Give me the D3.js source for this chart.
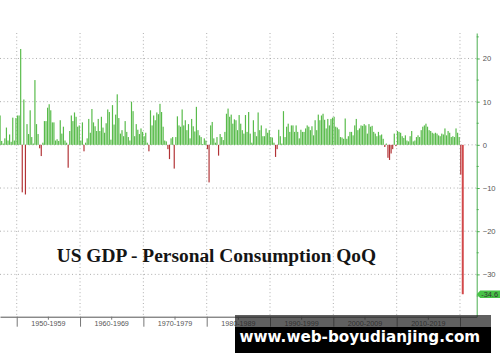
<!DOCTYPE html>
<html>
<head>
<meta charset="utf-8">
<script src="https://cdn.jsdelivr.net/npm/d3@7"></script>
<style>
  body { margin: 0; background: #fff; }
</style>
</head>
<body>
<svg width="500" height="362"></svg>
<script>
// US real personal consumption, QoQ annualized %, 1947 Q2 .. 2020 Q2
const firstQuarter = 1947.25;
const consumption = [
  6.8, 0.9, 0.3,            // 1947 Q2-Q4
  1.5, 4.0, 1.0, 2.4,       // 1948
  0.7, 6.3, 1.0, 6.2,       // 1949
  6.8, 6.8, 22.2, -11.0,    // 1950
  10.5, -11.5, 4.8, 2.5,    // 1951
  8.0, 1.8, 0.3, 15.0,      // 1952
  4.8, 2.5, -0.8, -2.6,     // 1953
  0.5, 5.5, 5.5, 8.6,       // 1954
  9.4, 8.0, 5.2, 5.2,       // 1955
  1.0, 1.3, 0.9, 5.7,       // 1956
  2.6, 4.2, 1.0, 0.5,       // 1957
  -5.3, 3.2, 6.8, 5.5,      // 1958
  7.5, 6.5, 4.2, 4.5,       // 1959
  1.0, 5.2, -1.5, 0.5,      // 1960
  1.5, 6.0, 2.8, 8.3,       // 1961
  5.2, 4.3, 3.2, 6.0,       // 1962
  3.2, 6.5, 4.0, 2.8,       // 1963
  5.0, 8.2, 7.6, 1.2,       // 1964
  9.2, 4.7, 7.0, 11.7,      // 1965
  6.2, 2.6, 3.4, 2.0,       // 1966
  5.5, 3.0, 1.8, 1.0,       // 1967
  10.0, 7.8, 2.0, 4.8,      // 1968
  3.5, 2.5, 3.8, 3.0,       // 1969
  2.0, 2.8, 0.5, -1.5,      // 1970
  8.0, 4.5, 6.8, 5.7,       // 1971
  7.5, 7.1, 9.5, 7.6,       // 1972
  4.2, 1.0, 0.8, -1.0,      // 1973
  -3.3, 1.5, 1.8, -5.5,     // 1974
  1.8, 6.6, 4.5, 4.2,       // 1975
  8.2, 4.5, 5.7, 3.4,       // 1976
  4.8, 1.5, 6.0, 4.3,       // 1977
  3.1, 8.8, 3.4, 2.2,       // 1978
  1.8, 0.2, 1.5, 1.0,       // 1979
  -1.0, -8.7, 4.5, 5.3,     // 1980
  1.5, 0.5, 1.8, -2.5,      // 1981
  2.5, 1.8, 1.1, 3.0,       // 1982
  7.2, 8.4, 6.5, 7.0,       // 1983
  4.9, 5.9, 5.7, 3.4,       // 1984
  6.9, 4.9, 3.4, 2.6,       // 1985
  6.9, 3.0, 7.6, 2.6,       // 1986
  0.5, 5.7, 3.0, 2.0,       // 1987
  7.5, 3.4, 4.5, 2.0,       // 1988
  2.0, 3.8, 2.8, 3.4,       // 1989
  1.8, 1.7, 0.5, -2.8,      // 1990
  -1.0, 3.5, 2.0, 0.3,      // 1991
  7.8, 1.8, 4.2, 4.9,       // 1992
  3.0, 4.5, 4.5, 3.0,       // 1993
  4.5, 3.0, 1.5, 3.5,       // 1994
  3.0, 3.0, 3.8, 4.5,       // 1995
  4.2, 3.4, 4.3, 2.2,       // 1996
  5.7, 3.4, 7.0, 5.7,       // 1997
  6.8, 7.2, 5.8, 3.8,       // 1998
  6.0, 4.5, 6.0, 6.3,       // 1999
  6.5, 4.2, 4.0, 3.6,       // 2000
  1.8, 1.7, 1.4, 6.1,       // 2001
  1.4, 2.0, 3.0, 3.0,       // 2002
  2.2, 4.5, 6.0, 3.4,       // 2003
  3.8, 4.5, 4.4, 4.8,       // 2004
  4.5, 2.6, 4.8, 4.2,       // 2005
  4.4, 3.0, 2.6, 2.0,       // 2006
  3.0, 2.2, 2.4, 1.4,       // 2007
  -0.5, 0.3, -3.0, -3.5,    // 2008
  -2.0, -1.0, 2.6, -0.3,    // 2009
  3.2, 3.0, 2.8, 2.0,       // 2010
  1.6, 2.2, 1.0, 0.8,       // 2011
  2.0, 3.2, 0.8, 1.0,       // 2012
  1.8, 2.2, 1.8, 3.4,       // 2013
  4.2, 4.5, 4.9, 4.2,       // 2014
  3.4, 3.2, 2.8, 2.6,       // 2015
  2.8, 2.6, 2.2, 2.0,       // 2016
  2.6, 2.4, 3.8, 2.2,       // 2017
  3.2, 2.8, 1.8, 2.0,       // 2018
  1.8, 3.8, 2.8, 1.8,       // 2019
  -6.9, -34.6               // 2020 Q1-Q2
];
const decadeStarts = [1950, 1960, 1970, 1980, 1990, 2000, 2010, 2020];
const decadeLabels = ["1950-1959", "1960-1969", "1970-1979", "1980-1989",
                      "1990-1999", "2000-2009", "2010-2019"];
const yTicks = [20, 10, 0, -10, -20, -30];
const yMinorTicks = [25, 15, 5, -5, -15, -25, -35];
const lastLabel = "-34.6";

const svg = d3.select("svg");
const width = +svg.attr("width");

svg.append("rect").attr("width", width).attr("height", 362).attr("fill", "#fff");

const x = d3.scaleLinear().domain([1947.36, 2022.64]).range([0, 476.7]);
const y = d3.scaleLinear().domain([-39.8, 25.9]).range([316.7, 33]);
const plotRight = x.range()[1];

// dotted grid
svg.append("g")
  .selectAll("line").data(decadeStarts).enter().append("line")
    .attr("x1", d => x(d)).attr("x2", d => x(d))
    .attr("y1", y.range()[1]).attr("y2", y.range()[0])
    .attr("stroke", "#9a9a9a").attr("stroke-width", 0.8)
    .attr("stroke-dasharray", "1,2.6");

svg.append("g")
  .selectAll("line").data(yTicks).enter().append("line")
    .attr("x1", 0).attr("x2", plotRight)
    .attr("y1", d => y(d)).attr("y2", d => y(d))
    .attr("stroke", "#9a9a9a").attr("stroke-width", 0.8)
    .attr("stroke-dasharray", "1,2.6");

// bars
const quarters = consumption.map((v, i) => ({ t: firstQuarter + i / 4, v }));
const barW = x(firstQuarter + 0.25) - x(firstQuarter);

svg.append("g")
  .selectAll("rect").data(quarters).enter().append("rect")
    .attr("x", d => x(d.t) + 0.2)
    .attr("width", d => d.v < -20 ? barW + 0.4 : barW - 0.4)
    .attr("y", d => y(Math.max(0, d.v)))
    .attr("height", d => Math.abs(y(d.v) - y(0)))
    .attr("fill", d => d.v >= 0 ? "#58bb4a" : (d.v < -20 ? "#d2494b" : "#b23336"));

// bottom axis
const xAxisG = svg.append("g")
  .attr("transform", `translate(0, ${y.range()[0]})`)
  .call(d3.axisBottom(x).tickValues(decadeStarts).tickSize(10).tickFormat("").tickSizeOuter(0));
xAxisG.select(".domain").attr("stroke", "#555");
xAxisG.selectAll(".tick line").attr("stroke", "#777");

xAxisG.selectAll(".minor").data(decadeLabels).enter().append("line")
  .attr("class", "minor")
  .attr("x1", (d, i) => x(decadeStarts[i] + 5)).attr("x2", (d, i) => x(decadeStarts[i] + 5))
  .attr("y1", 0).attr("y2", 3)
  .attr("stroke", "#777");

xAxisG.selectAll(".lbl").data(decadeLabels).enter().append("text")
  .attr("class", "lbl")
  .attr("x", (d, i) => x(decadeStarts[i] + 5))
  .attr("y", 9.6)
  .attr("text-anchor", "middle")
  .attr("font-family", "Liberation Sans, Arial, sans-serif")
  .attr("font-size", 7.2)
  .attr("fill", "#555")
  .text(d => d);

// right axis
const yAxisG = svg.append("g")
  .attr("transform", `translate(${plotRight}, 0)`)
  .call(d3.axisRight(y).tickValues(yTicks).tickSize(3).tickPadding(3).tickSizeOuter(0));
yAxisG.select(".domain").attr("stroke", "#4caf50");
yAxisG.selectAll(".tick line").attr("stroke", "#4caf50");
yAxisG.selectAll(".tick text")
  .attr("font-family", "Liberation Sans, Arial, sans-serif")
  .attr("font-size", 7.6)
  .attr("fill", "#555");
yAxisG.selectAll(".mtick").data(yMinorTicks.filter(d => d > y.domain()[0])).enter().append("line")
  .attr("class", "mtick")
  .attr("x1", 0).attr("x2", 2)
  .attr("y1", d => y(d)).attr("y2", d => y(d))
  .attr("stroke", "#4caf50");

// last value tag
const tagY = y(consumption[consumption.length - 1]);
svg.append("path")
  .attr("d", `M${plotRight},${tagY} L${plotRight + 3.5},${tagY - 3.8} L500,${tagY - 3.8} L500,${tagY + 3.8} L${plotRight + 3.5},${tagY + 3.8} Z`)
  .attr("fill", "#47c247");
svg.append("text")
  .attr("x", plotRight + 4.5).attr("y", tagY + 2.7)
  .attr("font-family", "Liberation Sans, Arial, sans-serif")
  .attr("font-size", 7.4)
  .attr("fill", "#333")
  .text(lastLabel);

// title
svg.append("text")
  .attr("x", 56.7).attr("y", 262)
  .attr("font-family", "Liberation Serif, Times New Roman, serif")
  .attr("font-weight", "bold")
  .attr("font-size", 19.4)
  .attr("fill", "#151515")
  .text("US GDP - Personal Consumption QoQ");

// watermark band
svg.append("rect").attr("x", 235).attr("y", 315).attr("width", 256).attr("height", 12)
  .attr("fill", "#222").attr("fill-opacity", 0.72);
svg.append("rect").attr("x", 235).attr("y", 327).attr("width", 256).attr("height", 26)
  .attr("fill", "#000");
svg.append("text")
  .attr("x", 239.5).attr("y", 342)
  .attr("font-family", "DejaVu Sans, sans-serif")
  .attr("font-weight", "bold")
  .attr("font-size", 15.2)
  .attr("fill", "#fff")
  .text("www.web-boyudianjing.com");
</script>
</body>
</html>
